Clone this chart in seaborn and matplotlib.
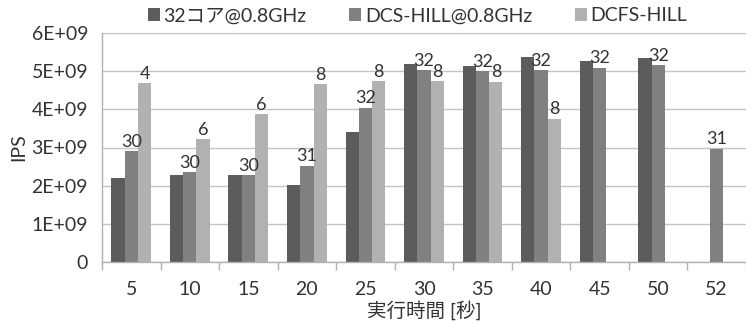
import numpy as np
import pandas as pd
import matplotlib
matplotlib.use("Agg")
import matplotlib.pyplot as plt
import seaborn as sns

# Execution time points (seconds)
times = ["5", "10", "15", "20", "25", "30", "35", "40", "45", "50", "52"]
series_names = ["32コア@0.8GHz", "DCS-HILL@0.8GHz", "DCFS-HILL"]

# Instructions per second for each configuration (NaN = no run)
ips_32core = [2.19e9, 2.28e9, 2.27e9, 2.01e9, 3.41e9, 5.19e9, 5.13e9, 5.36e9, 5.27e9, 5.34e9, np.nan]
ips_dcs = [2.91e9, 2.35e9, 2.28e9, 2.52e9, 4.04e9, 5.03e9, 5.00e9, 5.03e9, 5.09e9, 5.16e9, 2.97e9]
ips_dcfs = [4.68e9, 3.21e9, 3.88e9, 4.66e9, 4.74e9, 4.74e9, 4.72e9, 3.75e9, np.nan, np.nan, np.nan]

# Active core counts printed above the bars
cores_dcs = ["30", "30", "30", "31", "32", "32", "32", "32", "32", "32", "31"]
cores_dcfs = ["4", "6", "6", "8", "8", "8", "8", "8", None, None, None]

colors = ["#5c5c5c", "#808080", "#b1b1b1"]

sns.set_theme(style="white")
plt.rcParams["font.family"] = ["Lato", "Noto Sans CJK JP", "DejaVu Sans"]
text_color = "#333333"

rows = []
for name, vals in zip(series_names, [ips_32core, ips_dcs, ips_dcfs]):
    for t, v in zip(times, vals):
        if not np.isnan(v):
            rows.append({"time": t, "series": name, "ips": v})
df = pd.DataFrame(rows)

fig = plt.figure(figsize=(7.46, 3.24), dpi=100)
ax = fig.add_axes([102 / 746, 62 / 324, 644 / 746, 229 / 324])

sns.barplot(data=df, x="time", y="ips", hue="series", order=times,
            hue_order=series_names, palette=colors, width=0.68,
            errorbar=None, saturation=1, linewidth=0, ax=ax)

# Core-count labels above DCS-HILL and DCFS-HILL bars
for cont, labels, vals in zip(ax.containers[1:], [cores_dcs, cores_dcfs], [ips_dcs, ips_dcfs]):
    lab = [l for l, v in zip(labels, vals) if not np.isnan(v)]
    ax.bar_label(cont, labels=lab, padding=1, fontsize=13, color=text_color)

ax.set_ylim(0, 6e9)
ax.set_yticks(np.arange(0, 7e9, 1e9))
ax.set_yticklabels(["0", "1E+09", "2E+09", "3E+09", "4E+09", "5E+09", "6E+09"])
ax.set_xlim(-0.5, len(times) - 0.5)
ax.yaxis.grid(True, color="#c4c4c4", linewidth=1)
ax.set_axisbelow(True)

for side in ["top", "right"]:
    ax.spines[side].set_visible(False)
for side in ["left", "bottom"]:
    ax.spines[side].set_color("#b0b0b0")
    ax.spines[side].set_linewidth(1)

# Category boundaries as x tick marks
ax.set_xticks(np.arange(len(times)))
ax.set_xticklabels(times)
ax.set_xticks(np.arange(-0.5, len(times) - 0.4, 1), minor=True)
ax.tick_params(axis="x", which="major", length=0, pad=14, labelsize=14, labelcolor=text_color)
ax.tick_params(axis="x", which="minor", length=6, width=1, color="#b0b0b0", direction="out")
ax.tick_params(axis="y", length=6, width=1, color="#b0b0b0", direction="out",
               pad=4, labelsize=14, labelcolor=text_color)
ax.tick_params(axis="x", which="minor", bottom=True)

ax.set_xlabel("実行時間 [秒]", fontsize=14, color=text_color, labelpad=1)
ax.set_ylabel("IPS", fontsize=14, color=text_color, labelpad=3)

handles, labels = ax.get_legend_handles_labels()
ax.legend(handles, labels, loc="lower center", bbox_to_anchor=(0.49, 1.0),
          ncol=3, frameon=False, fontsize=14, handlelength=0.6, handleheight=0.6,
          handletextpad=0.2, columnspacing=2.2, labelcolor=text_color,
          borderaxespad=0.05)

fig.savefig("out.png", dpi=100)
